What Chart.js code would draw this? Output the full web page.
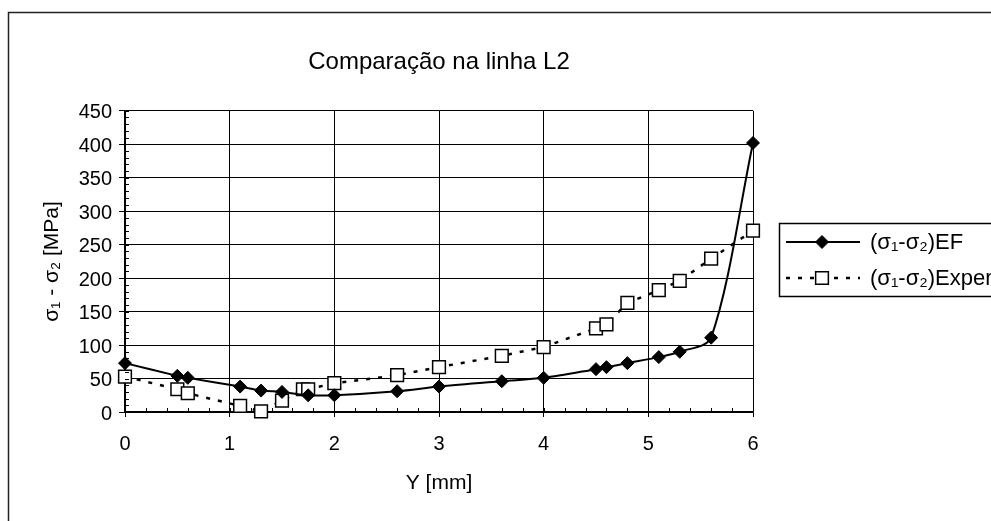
<!DOCTYPE html>
<html>
<head>
<meta charset="utf-8">
<script src="https://cdn.jsdelivr.net/npm/chart.js@4"></script>
<style>
  body { margin: 0; background: #fff; }
  canvas { display: block; }
</style>
</head>
<body>
<canvas id="chart1" width="991" height="521"></canvas>
<script>
const efX = [0, 0.5, 0.6, 1.1, 1.3, 1.5, 1.75, 2.0, 2.6, 3.0, 3.6, 4.0, 4.5, 4.6, 4.8, 5.1, 5.3, 5.6, 6.0];
const efY = [73, 54, 51, 38, 32, 30, 25, 25, 31, 38, 46, 51, 64, 67, 73, 82, 90, 111, 402];
const expX = [0, 0.5, 0.6, 1.1, 1.3, 1.5, 1.7, 1.75, 2.0, 2.6, 3.0, 3.6, 4.0, 4.5, 4.6, 4.8, 5.1, 5.3, 5.6, 6.0];
const expY = [53, 34, 28, 9, 1, 17, 34, 34, 43, 55, 67, 84, 97, 125, 131, 163, 182, 196, 229, 271];
const seriesNames = ['(σ₁-σ₂)EF', '(σ₁-σ₂)Exper'];

const FONT = "'Liberation Sans', Arial, sans-serif";

// frame round the whole chart
const framePlugin = {
  id: 'frame',
  beforeDraw(chart) {
    const ctx = chart.ctx;
    ctx.save();
    ctx.strokeStyle = '#222';
    ctx.lineWidth = 1.5;
    ctx.strokeRect(8.5, 12.5, chart.width + 20, chart.height + 20);
    ctx.restore();
  }
};

// small minor ticks inside the axes
const minorTicks = {
  id: 'minorTicks',
  afterDraw(chart) {
    const ctx = chart.ctx;
    const x = chart.scales.x, y = chart.scales.y;
    ctx.save();
    ctx.strokeStyle = '#000';
    ctx.lineWidth = 1;
    ctx.beginPath();
    for (let v = 0; v <= 450; v += 10) {
      const py = Math.round(y.getPixelForValue(v)) + 0.5;
      ctx.moveTo(x.left, py);
      ctx.lineTo(x.left + 4, py);
    }
    for (let i = 0; i <= 30; i++) {
      const px = Math.round(x.getPixelForValue(i * 0.2)) + 0.5;
      ctx.moveTo(px, y.bottom);
      ctx.lineTo(px, y.bottom - 4);
    }
    ctx.stroke();
    ctx.restore();
  }
};

// boxed legend to the right of the plot, cut by the page edge
const sideLegend = {
  id: 'sideLegend',
  afterDraw(chart) {
    const ctx = chart.ctx;
    const area = chart.chartArea;
    const left = area.right + 26;
    const top = 223;
    ctx.save();
    ctx.strokeStyle = '#000';
    ctx.lineWidth = 1.5;
    ctx.strokeRect(left + 0.5, top + 0.5, 400, 73);
    chart.data.datasets.forEach((ds, i) => {
      const cy = top + 19 + i * 36;
      ctx.strokeStyle = '#000';
      ctx.lineWidth = ds.borderWidth;
      ctx.setLineDash(ds.borderDash || []);
      ctx.beginPath();
      ctx.moveTo(left + 7, cy);
      ctx.lineTo(left + 81, cy);
      ctx.stroke();
      ctx.setLineDash([]);
      ctx.fillStyle = ds.pointBackgroundColor;
      ctx.lineWidth = ds.pointBorderWidth;
      Chart.helpers.drawPoint(ctx, {pointStyle: ds.pointStyle, radius: ds.pointRadius, rotation: 0, borderWidth: ds.pointBorderWidth}, left + 43, cy);
      ctx.fillStyle = '#000';
      ctx.font = '22px ' + FONT;
      ctx.textAlign = 'left';
      ctx.textBaseline = 'middle';
      ctx.fillText(ds.label, left + 91, cy + 1);
    });
    ctx.restore();
  }
};

const chart1 = new Chart(document.getElementById('chart1'), {
  type: 'scatter',
  plugins: [framePlugin, minorTicks, sideLegend],
  data: {
    datasets: [{
      label: seriesNames[0],
      data: efX.map((x, i) => ({x: x, y: efY[i]})),
      showLine: true,
      borderColor: '#000',
      borderWidth: 2,
      tension: 0.3,
      pointStyle: 'rectRot',
      pointRadius: 6.5,
      pointBackgroundColor: '#000',
      pointBorderColor: '#000',
      pointBorderWidth: 1,
      clip: false
    }, {
      label: seriesNames[1],
      data: expX.map((x, i) => ({x: x, y: expY[i]})),
      showLine: true,
      borderColor: '#000',
      borderWidth: 2.5,
      borderDash: [4, 8],
      tension: 0,
      pointStyle: 'rect',
      pointRadius: 9,
      pointBackgroundColor: '#fff',
      pointBorderColor: '#000',
      pointBorderWidth: 1.5,
      clip: false
    }]
  },
  options: {
    responsive: false,
    animation: false,
    devicePixelRatio: 1,
    layout: {
      padding: {left: 0, top: 0, right: 238, bottom: 0}
    },
    plugins: {
      legend: { display: false },
      tooltip: { enabled: false },
      title: {
        display: true,
        fullSize: false,
        text: 'Comparação na linha L2',
        color: '#000',
        font: {family: FONT, size: 24, weight: 'normal', lineHeight: 1.2},
        padding: {top: 48, bottom: 34}
      }
    },
    scales: {
      x: {
        type: 'linear',
        min: 0,
        max: 6,
        afterFit(scale) { scale.height = 109; },
        ticks: {
          stepSize: 1,
          color: '#000',
          padding: 15,
          font: {family: FONT, size: 20}
        },
        grid: { color: '#000', lineWidth: 1, tickLength: 5 },
        border: { color: '#000', width: 1.5 },
        title: {
          display: true,
          text: 'Y [mm]',
          color: '#000',
          font: {family: FONT, size: 21},
          padding: {top: 0, bottom: 25}
        }
      },
      y: {
        type: 'linear',
        min: 0,
        max: 450,
        afterFit(scale) { scale.width = 125; },
        ticks: {
          stepSize: 50,
          color: '#000',
          padding: 7,
          labelOffset: 2,
          font: {family: FONT, size: 20}
        },
        grid: { color: '#000', lineWidth: 1, tickLength: 6 },
        border: { color: '#000', width: 1.5 },
        title: {
          display: true,
          text: 'σ₁ - σ₂ [MPa]',
          color: '#000',
          font: {family: FONT, size: 21},
          padding: {top: 40, bottom: 0}
        }
      }
    }
  }
});
</script>
</body>
</html>
